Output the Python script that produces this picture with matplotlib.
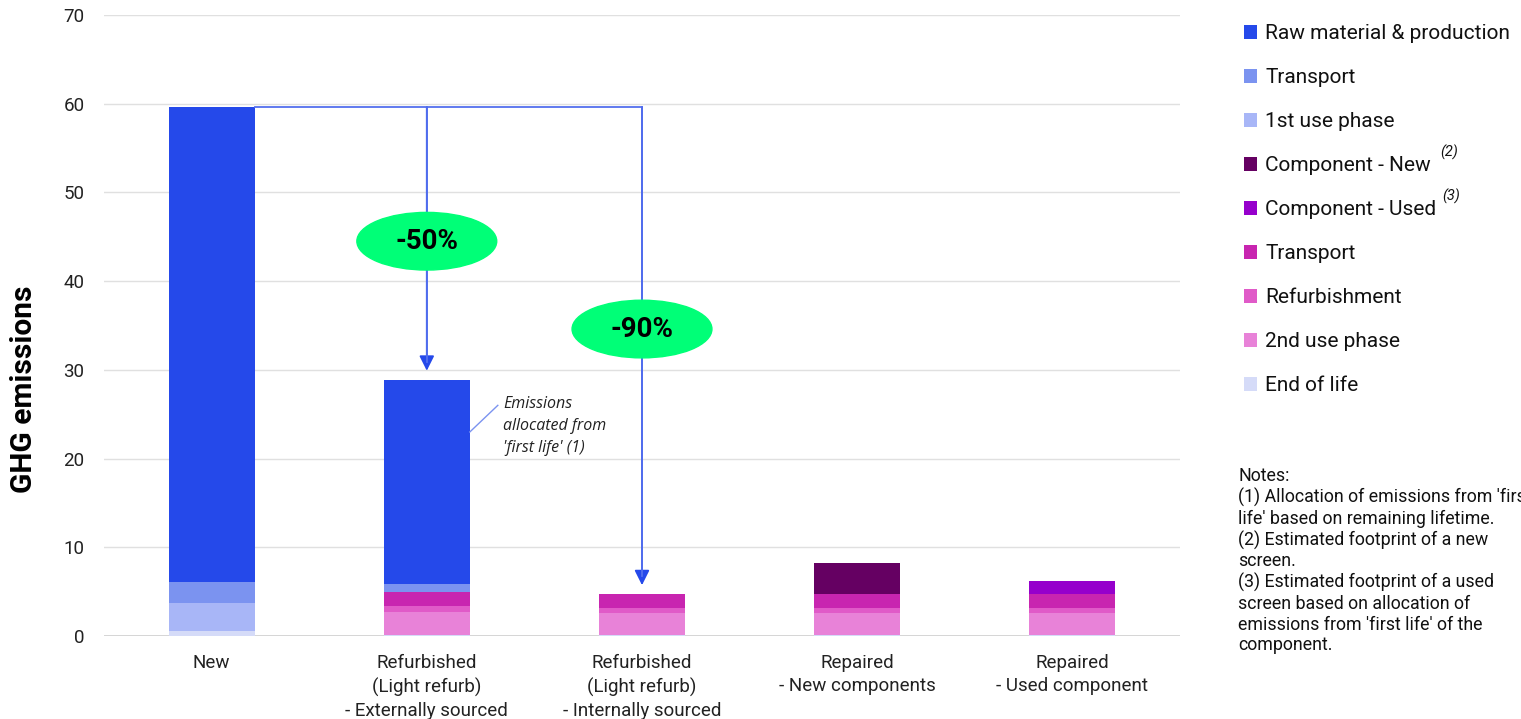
import matplotlib.pyplot as plt
from matplotlib.patches import Ellipse
import numpy as np

plt.rcParams['font.family'] = ['Roboto', 'DejaVu Sans']

# categories along the x axis
categories = ['New', 'Refurbished\n(Light refurb)\n- Externally sourced',
              'Refurbished\n(Light refurb)\n- Internally sourced',
              'Repaired\n- New components', 'Repaired\n- Used component']

# stack segments, bottom to top
end_of_life   = [0.6, 0.15, 0.1, 0.1, 0.1]
use_phase_2   = [0.0, 2.55, 2.5, 2.5, 2.5]
refurbishment = [0.0, 0.68, 0.5, 0.5, 0.5]
transport_2   = [0.0, 1.58, 1.63, 1.63, 1.63]
comp_used     = [0.0, 0.0, 0.0, 0.0, 1.44]
comp_new      = [0.0, 0.0, 0.0, 3.47, 0.0]
use_phase_1   = [3.15, 0.0, 0.0, 0.0, 0.0]
transport_1   = [2.3, 0.94, 0.0, 0.0, 0.0]
raw_material  = [53.55, 23.0, 0.0, 0.0, 0.0]

series = [
    ('End of life', end_of_life, '#d5dbf8'),
    ('2nd use phase', use_phase_2, '#e882d8'),
    ('Refurbishment', refurbishment, '#e05ac8'),
    ('Transport', transport_2, '#c825b0'),
    ('Component - Used', comp_used, '#9600cc'),
    ('Component - New', comp_new, '#650062'),
    ('1st use phase', use_phase_1, '#a8b6f7'),
    ('Transport', transport_1, '#7b93f0'),
    ('Raw material & production', raw_material, '#2549ea'),
]

reductions = ['-50%', '-90%']

fig = plt.figure(figsize=(15.21, 7.19), dpi=100)
ax = fig.add_axes([104 / 1521, 83 / 719, 1076 / 1521, 621 / 719])

x = np.arange(len(categories))
bottom = np.zeros(len(categories))
handles = []
for name, vals, col in series:
    b = ax.bar(x, vals, 0.4, bottom=bottom, color=col, label=name,
               linewidth=0, zorder=2)
    handles.append(b)
    bottom += np.array(vals)
totals = bottom

ax.set_xlim(-0.5, 4.5)
ax.set_ylim(0, 70)
ax.set_yticks(range(0, 71, 10))
ax.yaxis.grid(True, color='#e0e0e0', linewidth=1, zorder=0)
ax.axhline(0, color='#cccccc', linewidth=1.2, zorder=1)
for s in ax.spines.values():
    s.set_visible(False)
ax.tick_params(length=0, labelsize=13.5, colors='#222222')
ax.tick_params(axis='y', pad=14)
ax.tick_params(axis='x', pad=13)
ax.set_xticks(x)
ax.set_xticklabels(categories, linespacing=1.36)
ax.set_ylabel('GHG emissions', fontsize=21.5, fontweight='bold')
ax.yaxis.set_label_coords(-0.0613, 0.398)

# reduction arrows from the top of the "New" bar
line_col = '#5470ee'
top = totals[0]
ax.plot([0.2, 2], [top, top], color=line_col, lw=1.3, zorder=3)
for i, lab, ey in zip([1, 2], reductions, [44.5, 34.6]):
    ax.annotate('', xy=(i, totals[i] + 1.0), xytext=(i, top),
                arrowprops=dict(arrowstyle='-|>,head_length=0.9,head_width=0.45',
                                color=line_col, lw=1.3, fc='#2549ea', ec='#2549ea',
                                shrinkA=0, shrinkB=0), zorder=3)
    ax.plot([i, i], [top, totals[i] + 2], color=line_col, lw=1.3, zorder=3)
    ax.add_patch(Ellipse((i, ey), 0.65, 6.5, color='#00ff77', zorder=4))
    ax.text(i, ey, lab, ha='center', va='center', fontsize=20,
            fontweight='bold', zorder=5)

# callout on the refurbished bar
ax.plot([1.2, 1.33], [23.0, 26.0], color='#7b93f0', lw=1, zorder=3)
ax.text(1.356, 27.0, "Emissions\nallocated from\n'first life' (1)",
        fontsize=11.5, style='italic', family=['Open Sans', 'DejaVu Sans'],
        va='top', ha='left', linespacing=1.47, color='#222222')

# legend, top to bottom
leg = fig.legend(handles[::-1], [s[0] for s in series[::-1]],
                 loc='upper left', bbox_to_anchor=(1234 / 1521, 1 - 14 / 719),
                 frameon=False, fontsize=15, handlelength=0.6, handleheight=0.6,
                 handletextpad=0.4, labelspacing=1.2, borderpad=0)
for t in leg.get_texts():
    t.set_color('#111111')
fig.text(1440 / 1521, 1 - 157 / 719, '(2)', fontsize=10.5, style='italic', color='#111111')
fig.text(1442 / 1521, 1 - 201 / 719, '(3)', fontsize=10.5, style='italic', color='#111111')

notes = ("Notes:\n(1) Allocation of emissions from 'first\n"
         "life' based on remaining lifetime.\n(2) Estimated footprint of a new\n"
         "screen.\n(3) Estimated footprint of a used\nscreen based on allocation of\n"
         "emissions from 'first life' of the\ncomponent.")
fig.text(1238 / 1521, 1 - 467 / 719, notes, fontsize=12.8, va='top', ha='left',
         linespacing=1.19, color='#111111')

fig.savefig('out.png', dpi=100)
